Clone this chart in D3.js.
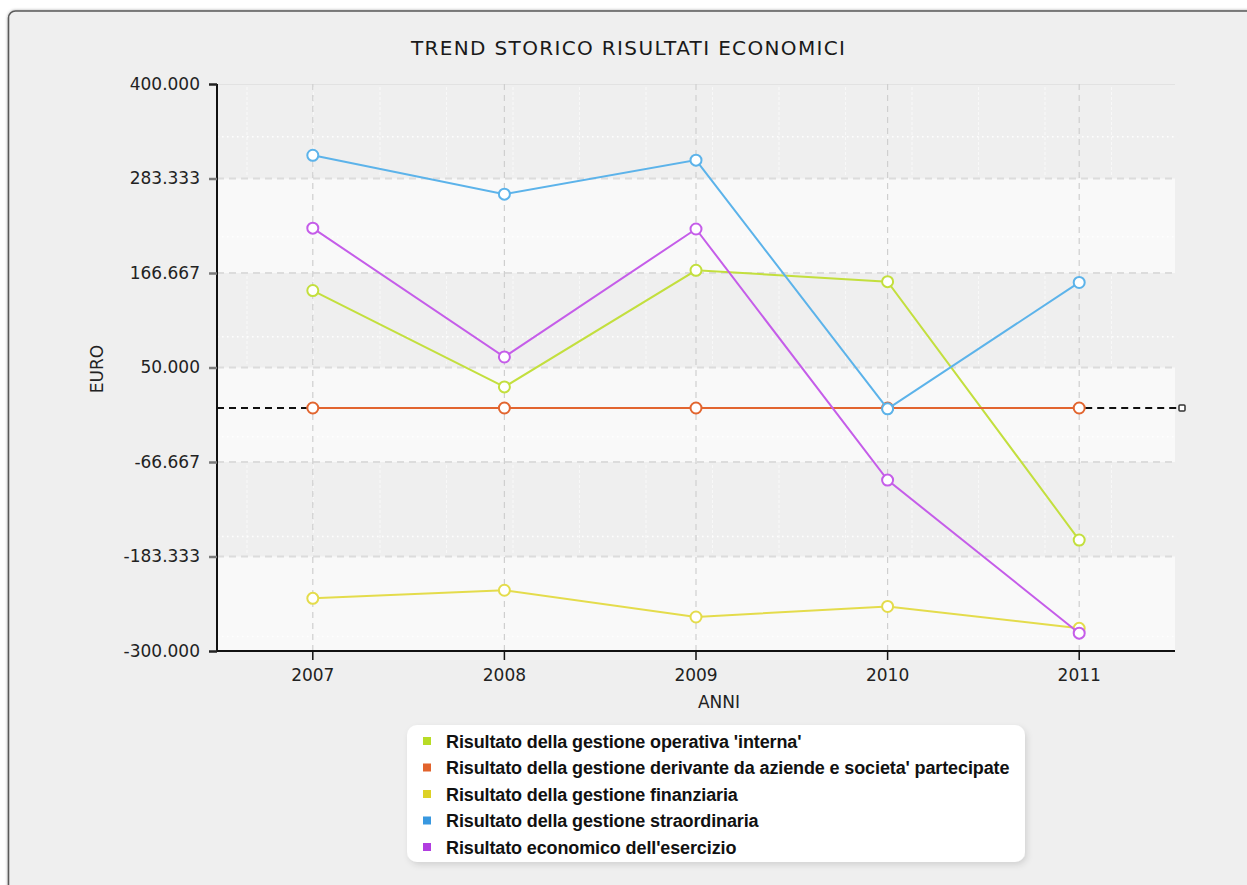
<!DOCTYPE html>
<html>
<head>
<meta charset="utf-8">
<script src="https://cdn.jsdelivr.net/npm/d3@7"></script>
<style>
  html, body { margin: 0; padding: 0; background: #ffffff; }
  svg { display: block; }
</style>
</head>
<body>
<svg id="chart" width="1247" height="885"></svg>
<script>
// ---------------- DATA ----------------
const years = ["2007", "2008", "2009", "2010", "2011"];
const yTicks = [400000, 283333.33, 166666.67, 50000, -66666.67, -183333.33, -300000];
const minorY = [335000, 211500, 88000, -35500, -158500, -282000];

const seriesNames = [
  "Risultato della gestione operativa 'interna'",
  "Risultato della gestione derivante da aziende e societa' partecipate",
  "Risultato della gestione finanziaria",
  "Risultato della gestione straordinaria",
  "Risultato economico dell'esercizio"
];
const operativaInterna = [145000, 26000, 170000, 156000, -163000];
const partecipate      = [0, 0, 0, 0, 0];
const finanziaria      = [-235000, -225000, -258000, -245000, -272000];
const straordinaria    = [312000, 264000, 306000, -1000, 155000];
const esercizio        = [222000, 63000, 221000, -89000, -278000];

const lineColors   = ["#c3df3e", "#e2652f", "#e4dc4c", "#5cb3ea", "#c55de9"];
const legendColors = ["#b8dc26", "#e2632c", "#ddd126", "#3898e0", "#b13de0"];

const title = "TREND STORICO RISULTATI ECONOMICI";
const xTitle = "ANNI";
const yTitle = "EURO";

// ---------------- SETUP ----------------
const seriesValues = [operativaInterna, partecipate, finanziaria, straordinaria, esercizio];
const series = seriesNames.map((n, i) => ({
  name: n, line: lineColors[i], legend: legendColors[i],
  values: years.map((y, j) => ({ year: y, value: seriesValues[i][j] }))
}));

const svg = d3.select("#chart");
const W = 1247, H = 885;
const plot = { left: 217, right: 1175, top: 84, bottom: 651 };

const locale = d3.formatLocale({ decimal: ",", thousands: ".", grouping: [3], currency: ["€", ""], minus: "-" });
const fmt = locale.format(",.0f");

const x = d3.scaleBand().domain(years).range([plot.left, plot.right]).padding(0);
const cx = d => x(d) + x.bandwidth() / 2;
const y = d3.scaleLinear().domain([-300000, 400000]).range([plot.bottom, plot.top]);

const defs = svg.append("defs");
const sh = defs.append("filter").attr("id", "shadow").attr("x", "-5%").attr("y", "-10%").attr("width", "115%").attr("height", "130%");
sh.append("feDropShadow").attr("dx", 2).attr("dy", 3).attr("stdDeviation", 3).attr("flood-color", "#000").attr("flood-opacity", 0.12);
const psh = defs.append("filter").attr("id", "pshadow").attr("x", "-5%").attr("y", "-5%").attr("width", "110%").attr("height", "110%");
psh.append("feDropShadow").attr("dx", 0).attr("dy", 0).attr("stdDeviation", 1.5).attr("flood-color", "#000").attr("flood-opacity", 0.35);

// panel
svg.append("rect").attr("x", 0).attr("y", 0).attr("width", W).attr("height", H).attr("fill", "#ffffff");
svg.append("rect").attr("x", 8.5).attr("y", 11).attr("width", W + 20).attr("height", H + 20)
  .attr("rx", 7).attr("fill", "#efefef").attr("stroke", "#5a5a5a").attr("stroke-width", 1.6)
  .attr("filter", "url(#pshadow)");

// title
svg.append("text").attr("x", 628).attr("y", 55).attr("text-anchor", "middle")
  .attr("font-family", "DejaVu Sans, sans-serif").attr("font-size", 20).attr("fill", "#1a1a1a")
  .attr("textLength", 434).attr("lengthAdjust", "spacing")
  .text(title);

// ---------------- PLOT BACKGROUND ----------------
const g = svg.append("g");
const sorted = yTicks.slice().sort((a, b) => b - a);
const bands = d3.pairs(sorted).map((p, i) => ({ hi: p[0], lo: p[1], i }));
g.selectAll("rect.band").data(bands).join("rect").attr("class", "band")
  .attr("x", plot.left).attr("width", plot.right - plot.left)
  .attr("y", d => y(d.hi)).attr("height", d => y(d.lo) - y(d.hi))
  .attr("fill", d => d.i % 2 === 0 ? "#efefef" : "#f9f9f9");

// faint vertical hatch lines inside grey bands
const hatchX = d3.range(14).map(k => plot.left + 30 + k * 66.5);
bands.filter(b => b.i % 2 === 0).forEach(b => {
  g.selectAll(null).data(hatchX).join("line")
    .attr("x1", d => d).attr("x2", d => d)
    .attr("y1", y(b.hi) + 3).attr("y2", y(b.lo) - 3)
    .attr("stroke", "#ffffff").attr("stroke-width", 1).attr("stroke-dasharray", "3,2").attr("opacity", 0.6);
});

// minor dotted white horizontal lines
g.selectAll("line.minor").data(minorY).join("line").attr("class", "minor")
  .attr("x1", plot.left).attr("x2", plot.right)
  .attr("y1", d => y(d)).attr("y2", d => y(d))
  .attr("stroke", "#ffffff").attr("stroke-width", 1.5).attr("stroke-dasharray", "1.5,3.5");

// major dashed gridlines
g.selectAll("line.major").data(yTicks.filter(t => t !== 400000 && t !== -300000)).join("line").attr("class", "major")
  .attr("x1", plot.left).attr("x2", plot.right)
  .attr("y1", d => y(d)).attr("y2", d => y(d))
  .attr("stroke", "#dcdcdc").attr("stroke-width", 2).attr("stroke-dasharray", "7,5");
g.append("line").attr("x1", plot.left).attr("x2", plot.right).attr("y1", plot.top + 0.5).attr("y2", plot.top + 0.5)
  .attr("stroke", "#e2e2e2").attr("stroke-width", 1);

// category vertical dashed lines
g.selectAll("line.vgrid").data(years).join("line").attr("class", "vgrid")
  .attr("x1", d => cx(d)).attr("x2", d => cx(d))
  .attr("y1", plot.top).attr("y2", plot.bottom)
  .attr("stroke", "#cfcfcf").attr("stroke-width", 1.2).attr("stroke-dasharray", "6,5");

// ---------------- AXES ----------------
const yAxis = svg.append("g").attr("transform", `translate(${plot.left},0)`)
  .call(d3.axisLeft(y).tickValues(yTicks).tickFormat(fmt).tickSize(8).tickPadding(9));
yAxis.select(".domain").attr("stroke", "#111").attr("stroke-width", 2).attr("d", `M0,${plot.top}V${plot.bottom}`);
yAxis.selectAll(".tick line").attr("stroke", d => d === 400000 || d === -300000 ? "#222" : "#7a7a7a").attr("stroke-width", 2.5);
yAxis.selectAll(".tick text").attr("font-family", "DejaVu Sans, sans-serif").attr("font-size", 17).attr("fill", "#222");

const xAxis = svg.append("g").attr("transform", `translate(0,${plot.bottom})`)
  .call(d3.axisBottom(x).tickSize(9).tickPadding(9));
xAxis.select(".domain").attr("stroke", "#111").attr("stroke-width", 2).attr("d", `M${plot.left},0H${plot.right}`);
xAxis.selectAll(".tick line").attr("stroke", "#111").attr("stroke-width", 1.5);
xAxis.selectAll(".tick text").attr("font-family", "DejaVu Sans, sans-serif").attr("font-size", 17).attr("fill", "#222");

svg.append("text").attr("x", 719).attr("y", 708).attr("text-anchor", "middle")
  .attr("font-family", "DejaVu Sans, sans-serif").attr("font-size", 17).attr("fill", "#222").text(xTitle);
svg.append("text").attr("transform", "translate(103,369) rotate(-90)").attr("text-anchor", "middle")
  .attr("font-family", "DejaVu Sans, sans-serif").attr("font-size", 17).attr("fill", "#222").text(yTitle);

// zero reference dashed line
const y0 = y(0);
svg.append("line").attr("x1", plot.left).attr("x2", cx(years[0]) - 6).attr("y1", y0).attr("y2", y0)
  .attr("stroke", "#111").attr("stroke-width", 2).attr("stroke-dasharray", "7,5");
svg.append("line").attr("x1", cx(years[years.length - 1]) + 6).attr("x2", plot.right + 2).attr("y1", y0).attr("y2", y0)
  .attr("stroke", "#111").attr("stroke-width", 2).attr("stroke-dasharray", "7,5");
svg.append("rect").attr("x", plot.right + 4).attr("y", y0 - 3).attr("width", 6).attr("height", 6).attr("rx", 1)
  .attr("fill", "#fff").attr("stroke", "#333").attr("stroke-width", 1.5);

// ---------------- SERIES ----------------
const line = d3.line().x(d => cx(d.year)).y(d => y(d.value));
const sg = svg.selectAll("g.series").data(series).join("g").attr("class", "series");
sg.append("path").attr("d", d => line(d.values)).attr("fill", "none")
  .attr("stroke", d => d.line).attr("stroke-width", 2);
sg.each(function (s) {
  d3.select(this).selectAll("circle").data(s.values).join("circle")
    .attr("cx", d => cx(d.year)).attr("cy", d => y(d.value)).attr("r", 5.5)
    .attr("fill", "#ffffff").attr("stroke", s.line).attr("stroke-width", 2);
});

// ---------------- LEGEND ----------------
const lg = svg.append("g");
lg.append("rect").attr("x", 407).attr("y", 725).attr("width", 618).attr("height", 137).attr("rx", 10)
  .attr("fill", "#ffffff").attr("filter", "url(#shadow)");
const items = lg.selectAll("g.item").data(series).join("g").attr("class", "item")
  .attr("transform", (d, i) => `translate(0,${741 + i * 26.5})`);
items.append("rect").attr("x", 423).attr("y", -4).attr("width", 8).attr("height", 8).attr("fill", d => d.legend);
items.append("text").attr("x", 446).attr("y", 6.5)
  .attr("font-family", "Liberation Sans, Arial, sans-serif").attr("font-weight", "bold").attr("font-size", 18)
  .attr("letter-spacing", -0.12)
  .attr("fill", "#111").text(d => d.name);
</script>
</body>
</html>
